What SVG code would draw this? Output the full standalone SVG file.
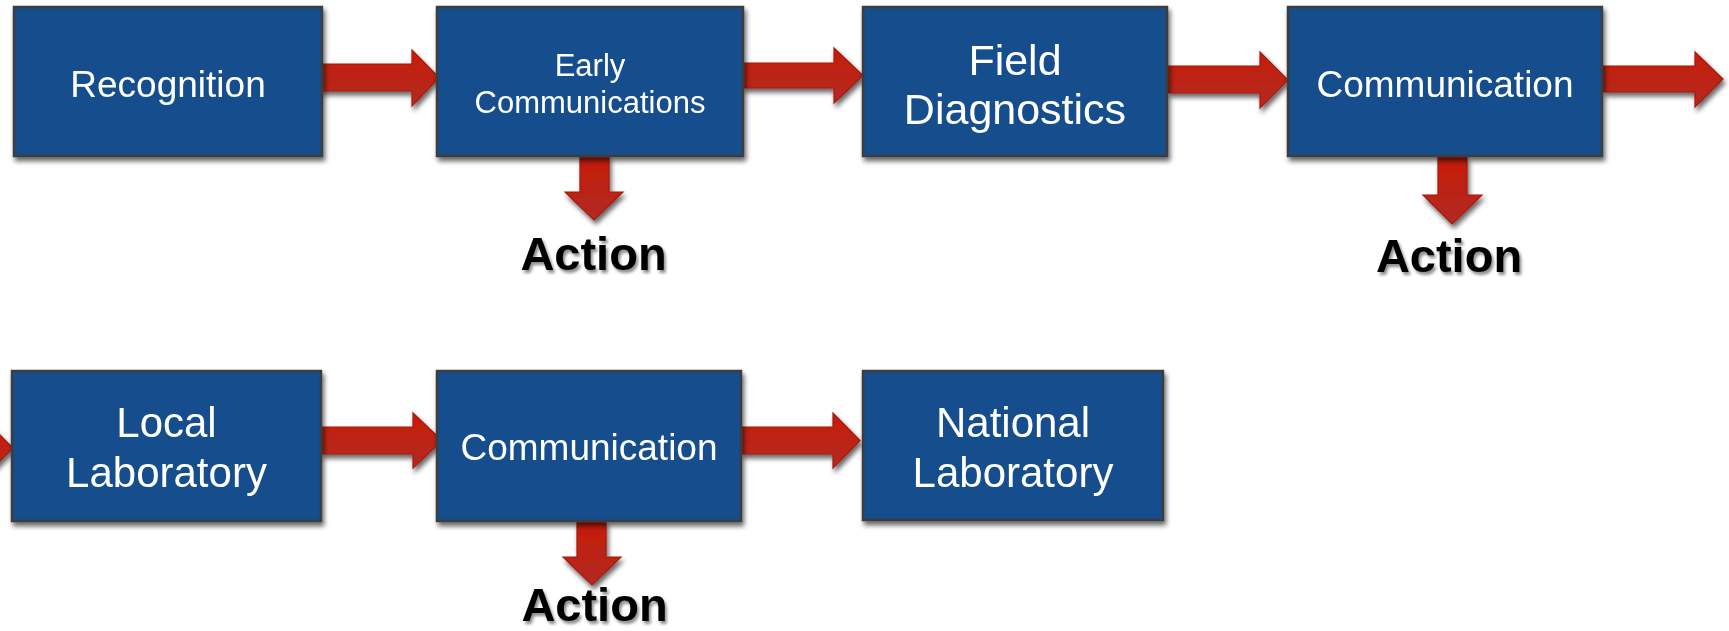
<svg xmlns="http://www.w3.org/2000/svg" width="1729" height="631" viewBox="0 0 1729 631">
<defs>
<linearGradient id="redH" x1="0" y1="0" x2="0" y2="1">
<stop offset="0" stop-color="#c61d08"/>
<stop offset="1" stop-color="#b32a22"/>
</linearGradient>
<linearGradient id="redV" x1="0" y1="0" x2="0" y2="1">
<stop offset="0" stop-color="#c81c06"/>
<stop offset="1" stop-color="#b02a24"/>
</linearGradient>
<filter id="shadow" x="-10%" y="-10%" width="125%" height="130%">
<feGaussianBlur in="SourceAlpha" stdDeviation="2.5"/>
<feOffset dx="2" dy="4" result="b"/>
<feComponentTransfer><feFuncA type="linear" slope="0.6"/></feComponentTransfer>
<feMerge><feMergeNode/><feMergeNode in="SourceGraphic"/></feMerge>
</filter>
<filter id="tshadow" x="-10%" y="-10%" width="125%" height="140%">
<feGaussianBlur in="SourceAlpha" stdDeviation="1.5"/>
<feOffset dx="2" dy="3" result="b"/>
<feComponentTransfer><feFuncA type="linear" slope="0.45"/></feComponentTransfer>
<feMerge><feMergeNode/><feMergeNode in="SourceGraphic"/></feMerge>
</filter>
</defs>
<style>
.box{fill:#134d8d;stroke:#3e3e3e;stroke-width:2.5}
.lbl{fill:#ffffff;font-family:"Liberation Sans",Arial,sans-serif;text-anchor:middle}
.arr{stroke:#a81a0c;stroke-width:1.2;stroke-linejoin:miter}
.act{fill:#000000;font-family:"Liberation Sans",Arial,sans-serif;font-weight:bold;font-size:47px;text-anchor:middle}
</style>
<rect width="1729" height="631" fill="#ffffff"/>

<g id="connectors" filter="url(#shadow)">
<polygon class="arr" fill="url(#redH)" points="320,64 412,64 412,50 439,77.5 412,106 412,91 320,91"/>
<polygon class="arr" fill="url(#redH)" points="743,63 834,63 834,48 863,75.5 834,103 834,88 743,88"/>
<polygon class="arr" fill="url(#redH)" points="1168,66 1260,66 1260,52 1288,80 1260,108 1260,93 1168,93"/>
<polygon class="arr" fill="url(#redH)" points="1603,66 1695,66 1695,52 1723,79 1695,107 1695,92 1603,92"/>
<polygon class="arr" fill="url(#redH)" points="-40,434 -15,434 -15,420 13,448 -15,476 -15,462 -40,462"/>
<polygon class="arr" fill="url(#redH)" points="321,427 413,427 413,413 442,440.5 413,468 413,454 321,454"/>
<polygon class="arr" fill="url(#redH)" points="741,427 833,427 833,413 860,440.5 833,468 833,454 741,454"/>
<polygon class="arr" fill="url(#redV)" points="580,156 609,156 609,192 623,192 594,220 565,192 580,192"/>
<polygon class="arr" fill="url(#redV)" points="1438,157 1467,157 1467,195 1482,195 1452,224 1423,195 1438,195"/>
<polygon class="arr" fill="url(#redV)" points="577,521 606,521 606,557 621,557 592,585 563,557 577,557"/>
</g>

<g id="n1" filter="url(#shadow)">
<rect class="box" x="14" y="7" width="308" height="149"/>
<text class="lbl" x="168" y="97" font-size="37">Recognition</text>
</g>
<g id="n2" filter="url(#shadow)">
<rect class="box" x="437" y="7" width="306" height="149"/>
<text class="lbl" x="590" y="76" font-size="31">Early</text>
<text class="lbl" x="590" y="113" font-size="31">Communications</text>
</g>
<g id="n3" filter="url(#shadow)">
<rect class="box" x="863" y="7" width="304" height="149"/>
<text class="lbl" x="1015" y="75" font-size="43">Field</text>
<text class="lbl" x="1015" y="124" font-size="43">Diagnostics</text>
</g>
<g id="n4" filter="url(#shadow)">
<rect class="box" x="1288" y="7" width="314" height="149"/>
<text class="lbl" x="1445" y="97" font-size="37">Communication</text>
</g>
<g id="n5" filter="url(#shadow)">
<rect class="box" x="12" y="371" width="309" height="150"/>
<text class="lbl" x="166.5" y="437" font-size="42">Local</text>
<text class="lbl" x="166.5" y="487" font-size="42">Laboratory</text>
</g>
<g id="n6" filter="url(#shadow)">
<rect class="box" x="437" y="371" width="304" height="150"/>
<text class="lbl" x="589" y="460" font-size="37">Communication</text>
</g>
<g id="n7" filter="url(#shadow)">
<rect class="box" x="863" y="371" width="300" height="149"/>
<text class="lbl" x="1013" y="437" font-size="42">National</text>
<text class="lbl" x="1013" y="487" font-size="42">Laboratory</text>
</g>

<g id="action1" filter="url(#tshadow)"><text class="act" x="593.5" y="270">Action</text></g>
<g id="action2" filter="url(#tshadow)"><text class="act" x="1449" y="272">Action</text></g>
<g id="action3" filter="url(#tshadow)"><text class="act" x="594.5" y="621" font-size="46">Action</text></g>
</svg>
